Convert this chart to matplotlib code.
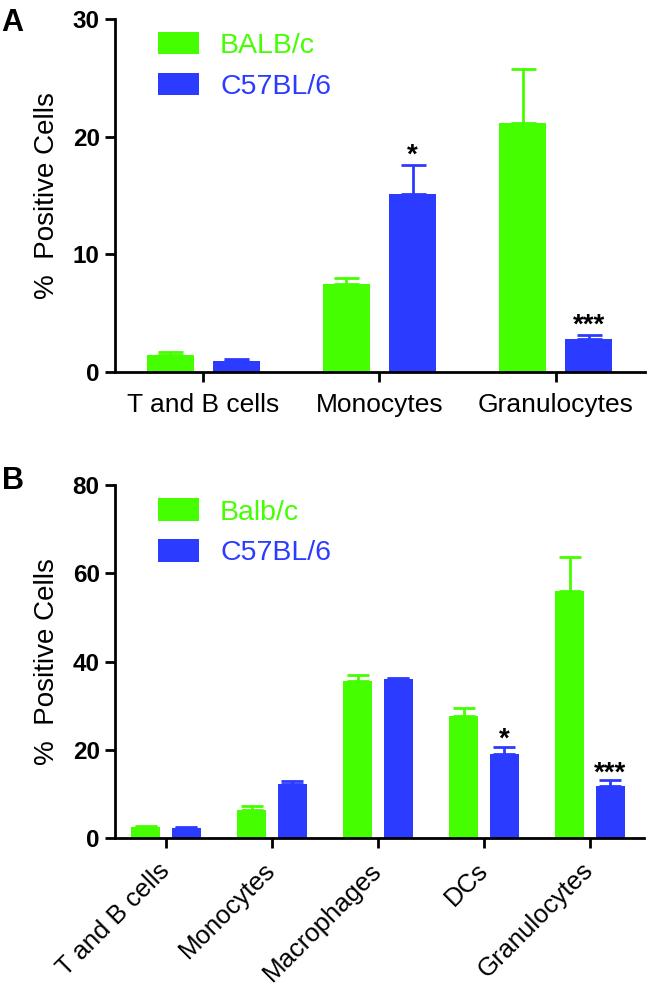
import matplotlib
matplotlib.use("Agg")
import matplotlib.pyplot as plt
from matplotlib.patches import Rectangle
import numpy as np

# Panel A data
cats_a = ["T and B cells", "Monocytes", "Granulocytes"]
balb_a = [1.4, 7.5, 21.2]
balb_a_err = [0.25, 0.5, 4.6]
c57_a = [0.9, 15.1, 2.8]
c57_a_err = [0.2, 2.5, 0.35]
sig_a = ["", "*", "***"]
yticks_a = [0, 10, 20, 30]
legend_a = ["BALB/c", "C57BL/6"]

# Panel B data
cats_b = ["T and B cells", "Monocytes", "Macrophages", "DCs", "Granulocytes"]
balb_b = [2.5, 6.3, 35.7, 27.8, 55.9]
balb_b_err = [0.3, 1.0, 1.2, 1.8, 7.8]
c57_b = [2.4, 12.3, 36.1, 19.1, 11.9]
c57_b_err = [0.1, 0.7, 0.2, 1.5, 1.2]
sig_b = ["", "", "", "*", "***"]
yticks_b = [0, 20, 40, 60, 80]
legend_b = ["Balb/c", "C57BL/6"]

GREEN = "#45FF00"
BLUE = "#2B3BFF"
SANS = ["Liberation Sans", "DejaVu Sans"]

fig = plt.figure(figsize=(6.49, 9.86), dpi=100)
W, H = 649, 986

def axes_px(l, r, t, b):
    return fig.add_axes([l / W, 1 - b / H, (r - l) / W, (b - t) / H])

def style(ax, ymax, yticks):
    for s in ["top", "right"]:
        ax.spines[s].set_visible(False)
    for s in ["left", "bottom"]:
        ax.spines[s].set_linewidth(2.0)
    ax.set_ylim(0, ymax)
    ax.set_yticks(yticks)
    ax.tick_params(axis="y", length=7.5, width=2.0, pad=3.5)
    ax.tick_params(axis="x", length=7.5, width=2.0)
    for lab in ax.get_yticklabels():
        lab.set_fontfamily(SANS)
        lab.set_fontweight("bold")
        lab.set_fontsize(17.5)
    ax.set_ylabel("%  Positive Cells", fontfamily=SANS, fontsize=20, labelpad=9)

def draw(ax, cats, g, ge, b, be, sig, off, width, cap, star_gap):
    x = np.arange(len(cats))
    ax.bar(x - off, g, width, color=GREEN, edgecolor=GREEN, linewidth=0)
    ax.bar(x + off, b, width, color=BLUE, edgecolor=BLUE, linewidth=0)
    ax.errorbar(x - off, g, yerr=[np.zeros(len(g)), ge], fmt="none", ecolor=GREEN,
                elinewidth=2, capsize=cap, capthick=2)
    ax.errorbar(x + off, b, yerr=[np.zeros(len(b)), be], fmt="none", ecolor=BLUE,
                elinewidth=2, capsize=cap, capthick=2)
    for xi, v, e, s in zip(x, b, be, sig):
        if s:
            ax.text(xi + off, v + e + star_gap, s, ha="center", va="bottom",
                    fontsize=20, fontweight="bold", fontfamily=SANS)
    ax.set_xticks(x)

def legend_px(labels, boxes):
    for lab, c, (y1, y2) in zip(labels, [GREEN, BLUE], boxes):
        fig.add_artist(Rectangle((158.3 / W, 1 - y2 / H), (199.3 - 158.3) / W, (y2 - y1) / H,
                                 transform=fig.transFigure, facecolor=c, edgecolor="none"))
        fig.text(220 / W, 1 - (y2 - 1.5) / H, lab, color=c, fontsize=20.5, fontfamily=SANS,
                 ha="left", va="baseline")

# Panel A
axA = axes_px(115, 645, 19.3, 371.7)
draw(axA, cats_a, balb_a, balb_a_err, c57_a, c57_a_err, sig_a, 0.188, 0.267, 9, -0.35)
axA.set_xlim(-0.501, 2.507)
style(axA, 30, yticks_a)
axA.set_xticklabels(cats_a, fontfamily=SANS, fontsize=19)
axA.tick_params(axis="x", pad=8)
legend_px(legend_a, [(32.3, 54.3), (72.7, 95.0)])

# Panel B
axB = axes_px(115, 644, 485, 838.3)
draw(axB, cats_b, balb_b, balb_b_err, c57_b, c57_b_err, sig_b, 0.19, 0.274, 8, -1.3)
axB.set_xlim(-0.48, 4.51)
style(axB, 80, yticks_b)
axB.set_xticklabels(cats_b, fontfamily=SANS, fontsize=18.5, rotation=45, ha="right",
                    va="center", rotation_mode="anchor")
axB.tick_params(axis="x", pad=13)
legend_px(legend_b, [(498.3, 521.0), (539.0, 561.7)])

fig.text(1 / W, 1 - 8 / H, "A", fontsize=22, fontweight="bold", fontfamily=SANS, va="top", ha="left")
fig.text(2 / W, 1 - 466 / H, "B", fontsize=22, fontweight="bold", fontfamily=SANS, va="top", ha="left")

fig.savefig("out.png", dpi=100)
